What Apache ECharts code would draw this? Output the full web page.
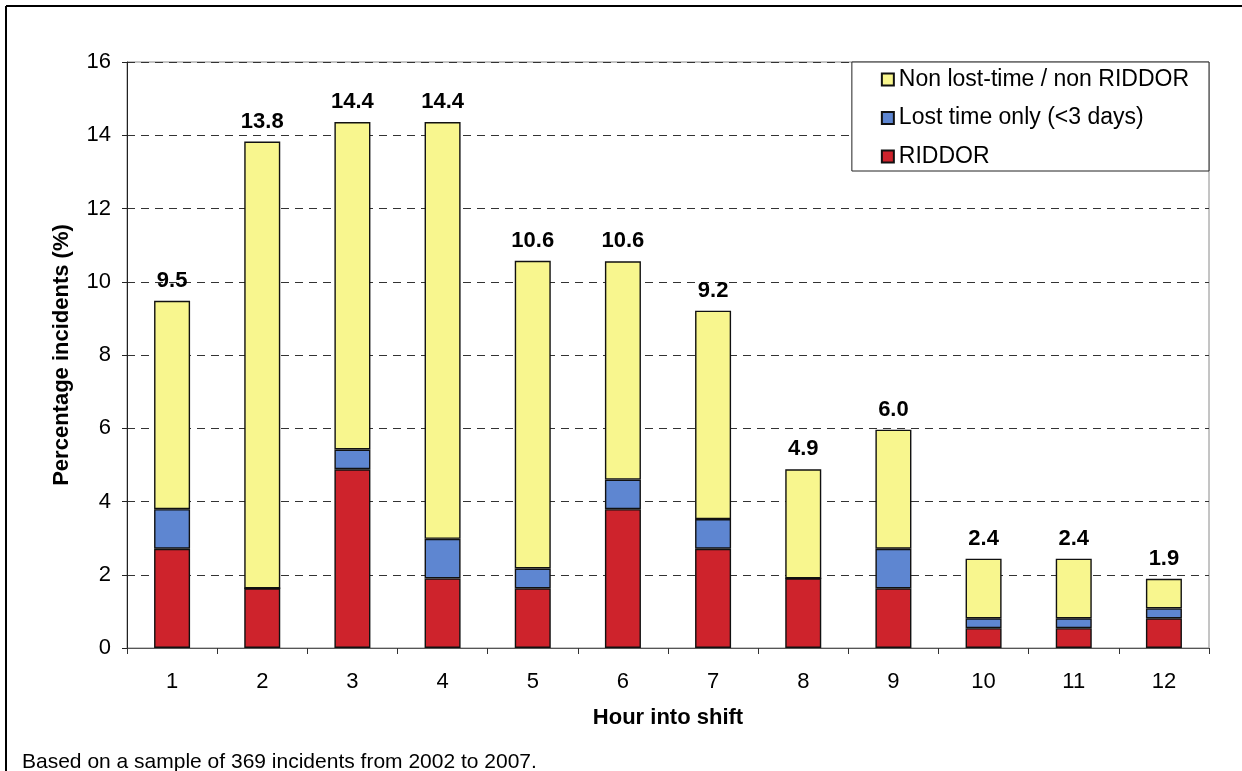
<!DOCTYPE html>
<html>
<head>
<meta charset="utf-8">
<script src="https://cdn.jsdelivr.net/npm/echarts@6/dist/echarts.min.js"></script>
<style>
  html, body { margin: 0; padding: 0; background: #fff; }
  #chart { width: 1242px; height: 771px; }
</style>
</head>
<body>
<div id="chart"></div>
<script>
// hour into shift
const hours = ["1", "2", "3", "4", "5", "6", "7", "8", "9", "10", "11", "12"];

// percentage of incidents per category (stacked, bottom to top)
const riddor = [2.71, 1.63, 4.88, 1.90, 1.63, 3.79, 2.71, 1.90, 1.63, 0.54, 0.54, 0.81];
const lostTime = [1.08, 0, 0.54, 1.08, 0.54, 0.81, 0.81, 0, 1.08, 0.27, 0.27, 0.27];
const nonLostTime = [5.69, 12.20, 8.94, 11.38, 8.40, 5.96, 5.69, 2.98, 3.25, 1.63, 1.63, 0.81];

// totals shown above the bars
const totals = [9.5, 13.8, 14.4, 14.4, 10.6, 10.6, 9.2, 4.9, 6.0, 2.4, 2.4, 1.9];

const yTicks = { min: 0, max: 16, interval: 2 };

const FONT = "'Liberation Sans', Arial, sans-serif";

function barSeries(name, data, color, extra) {
    return Object.assign({
        name: name,
        type: "bar",
        stack: "all",
        barWidth: 36,
        data: data,
        itemStyle: { color: color, borderColor: "#111", borderWidth: 1.4 },
        emphasis: { disabled: true }
    }, extra || {});
}

function buildOptions() {
    return {
        animation: false,
        textStyle: { fontFamily: FONT },
        grid: {
            left: 127, right: 33, top: 62, bottom: 123,
            show: true, borderColor: "#8a8a8a", borderWidth: 1
        },
        legend: {
            data: ["Non lost-time / non RIDDOR", "Lost time only (<3 days)", "RIDDOR"],
            orient: "vertical",
            right: 33,
            top: 62,
            backgroundColor: "#fff",
            borderColor: "#222",
            borderWidth: 1,
            padding: [6, 20, 3, 29],
            itemGap: 15.5,
            itemWidth: 12,
            itemHeight: 12,
            icon: "rect",
            textStyle: { fontSize: 23, color: "#000", fontFamily: FONT }
        },
        xAxis: {
            type: "category",
            data: hours,
            name: "Hour into shift",
            nameLocation: "middle",
            nameGap: 59,
            nameTextStyle: { fontSize: 22, fontWeight: "bold", color: "#000", fontFamily: FONT },
            axisLine: { lineStyle: { color: "#555", width: 1 } },
            axisTick: { show: true, length: 6, lineStyle: { color: "#333" } },
            axisLabel: { fontSize: 22, color: "#000", margin: 23, fontFamily: FONT }
        },
        yAxis: {
            type: "value",
            min: yTicks.min,
            max: yTicks.max,
            interval: yTicks.interval,
            name: "Percentage incidents (%)",
            nameLocation: "middle",
            nameGap: 54,
            nameTextStyle: { fontSize: 22, fontWeight: "bold", color: "#000", fontFamily: FONT },
            axisLine: { show: true, lineStyle: { color: "#222", width: 1 } },
            axisTick: { show: true, length: 5, lineStyle: { color: "#222" } },
            axisLabel: { fontSize: 22, color: "#000", margin: 16, fontFamily: FONT },
            splitLine: { show: true, lineStyle: { color: "#333", type: [8, 6], width: 1 } }
        },
        series: [
            barSeries("RIDDOR", riddor, "#CE232C"),
            barSeries("Lost time only (<3 days)", lostTime, "#5E86D1"),
            barSeries("Non lost-time / non RIDDOR", nonLostTime, "#F8F68E", {
                label: {
                    show: true,
                    position: "top",
                    distance: 9,
                    fontSize: 22,
                    fontWeight: "bold",
                    color: "#000",
                    fontFamily: FONT,
                    formatter: (p) => totals[p.dataIndex].toFixed(1)
                }
            })
        ],
        graphic: [
            { type: "line", shape: { x1: 6, y1: 6, x2: 1242, y2: 6 }, style: { stroke: "#000", lineWidth: 2 } },
            { type: "line", shape: { x1: 6, y1: 6, x2: 6, y2: 771 }, style: { stroke: "#000", lineWidth: 2 } },
            {
                type: "text", left: 22, top: 752,
                style: { text: "Based on a sample of 369 incidents from 2002 to 2007.", fontSize: 21, fill: "#000", fontFamily: FONT }
            }
        ]
    };
}

function render() {
    const chart = echarts.init(document.getElementById("chart"));
    chart.setOption(buildOptions());
}

window.addEventListener("load", render);
</script>
</body>
</html>
